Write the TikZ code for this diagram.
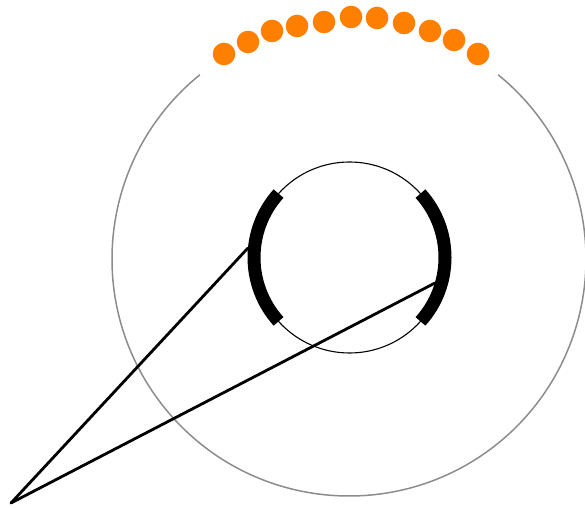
\documentclass[tikz,border=0pt]{standalone}
\definecolor{dotorange}{RGB}{255,127,0}
\begin{document}
\begin{tikzpicture}[x=1pt,y=1pt,
  bigring/.style={draw=black!45, line width=1.5pt},
  smallring/.style={draw=black, line width=1.1pt},
  thickarc/.style={draw=black, line width=13pt, line cap=butt},
  ray/.style={draw=black, line width=2.8pt, line cap=round},
  orangedot/.style={fill=dotorange}]
\useasboundingbox (0,0) rectangle (585,508);
\coordinate (B) at (349,249);
\coordinate (S) at (349.5,250.5);
% big circle with gap at top
\draw[bigring] (B) ++(129:237) arc[start angle=129, end angle=411, radius=237];
% orange dots
\foreach \x/\y in {224/454,248/466,272/477,297/482,324/486,351/491,377/490,404/485,430/477,454/468,478/454}
  \fill[orangedot] (\x,\y) circle[radius=11.3];
% small circle
\draw[smallring] (S) circle[radius=95.5];
% thick arcs
\draw[thickarc] (S) ++(138:95.5) arc[start angle=138, end angle=222, radius=95.5];
\draw[thickarc] (S) ++(-42:95.5) arc[start angle=-42, end angle=42, radius=95.5];
% rays
\coordinate (apex) at (11,5);
\coordinate (leftend) at (248,260);
\coordinate (rightend) at (435,225);
\draw[ray] (apex) -- (leftend);
\draw[ray] (apex) -- (rightend);
\end{tikzpicture}
\end{document}
